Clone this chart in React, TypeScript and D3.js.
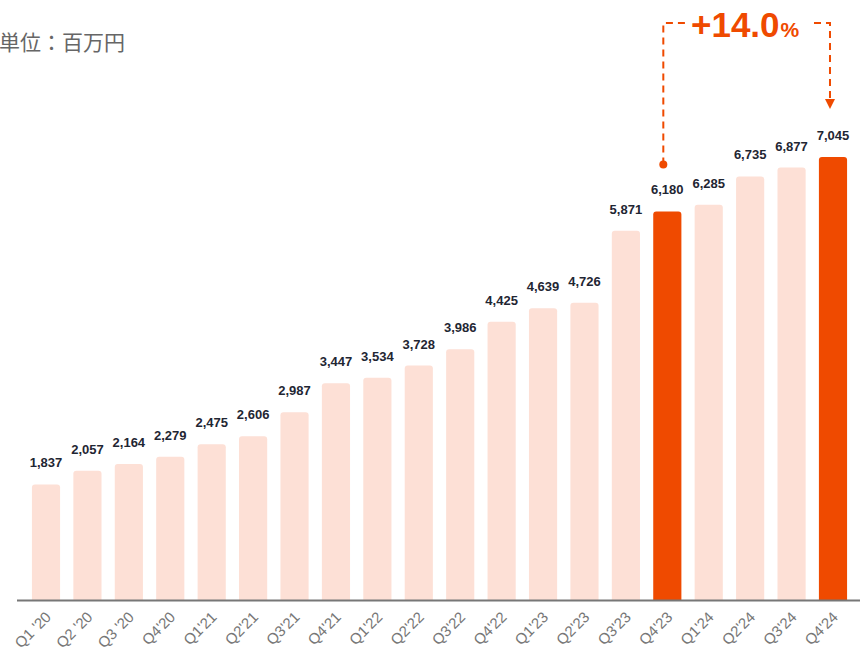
import React, { useEffect, useRef } from "react";
import * as d3 from "d3";

const quarters = [
  "Q1 '20", "Q2 '20", "Q3 '20", "Q4'20",
  "Q1'21", "Q2'21", "Q3'21", "Q4'21",
  "Q1'22", "Q2'22", "Q3'22", "Q4'22",
  "Q1'23", "Q2'23", "Q3'23", "Q4'23",
  "Q1'24", "Q2'24", "Q3'24", "Q4'24",
];
const revenue = [
  1837, 2057, 2164, 2279,
  2475, 2606, 2987, 3447,
  3534, 3728, 3986, 4425,
  4639, 4726, 5871, 6180,
  6285, 6735, 6877, 7045,
];
const highlighted = ["Q4'23", "Q4'24"];
const growthLabel = "+14.0";
const unitLabel = "単位：百万円";

const LIGHT = "#fde0d6";
const ORANGE = "#ef4a00";

export default function App() {
  const ref = useRef<SVGSVGElement>(null);

  useEffect(() => {
    if (!ref.current) return;
    const width = 860,
      baseline = 600;

    const svg = d3.select(ref.current);
    svg.selectAll("*").remove();

    const data = quarters.map((q, i) => ({ q, v: revenue[i] }));

    const x = d3
      .scaleBand()
      .domain(quarters)
      .range([25.3, 853.7])
      .paddingInner(0.32)
      .paddingOuter(0.16);

    const y = d3
      .scaleLinear()
      .domain([0, d3.max(revenue) as number])
      .range([baseline, 157]);

    const r = 3;
    const barPath = (d: { q: string; v: number }) => {
      const x0 = x(d.q) as number;
      const w = x.bandwidth();
      const top = y(d.v);
      return `M${x0},${baseline}V${top + r}Q${x0},${top} ${x0 + r},${top}H${x0 + w - r}Q${x0 + w},${top} ${x0 + w},${top + r}V${baseline}Z`;
    };

    svg
      .append("g")
      .selectAll("path")
      .data(data)
      .enter()
      .append("path")
      .attr("d", barPath)
      .attr("fill", (d) => (highlighted.includes(d.q) ? ORANGE : LIGHT));

    // value labels
    svg
      .append("g")
      .selectAll("text")
      .data(data)
      .enter()
      .append("text")
      .attr("x", (d) => (x(d.q) as number) + x.bandwidth() / 2)
      .attr("y", (d) => y(d.v) - 17)
      .attr("text-anchor", "middle")
      .attr("font-family", "Liberation Sans, Arial, sans-serif")
      .attr("font-weight", "bold")
      .attr("font-size", 13)
      .attr("fill", "#1f2633")
      .text((d) => d3.format(",")(d.v));

    // x axis
    svg
      .append("line")
      .attr("x1", 17)
      .attr("x2", width)
      .attr("y1", baseline + 0.5)
      .attr("y2", baseline + 0.5)
      .attr("stroke", "#777")
      .attr("stroke-width", 2);

    svg
      .append("g")
      .selectAll("text")
      .data(quarters)
      .enter()
      .append("text")
      .attr("transform", (q) => {
        const cx = (x(q) as number) + x.bandwidth() / 2 + 6;
        return `translate(${cx},${baseline + 18}) rotate(-45)`;
      })
      .attr("text-anchor", "end")
      .attr("font-family", "Liberation Sans, Arial, sans-serif")
      .attr("font-size", 15)
      .attr("fill", "#777")
      .text((q) => q);

    // unit
    svg
      .append("text")
      .attr("x", -1)
      .attr("y", 50)
      .attr("font-family", "Noto Sans CJK JP, sans-serif")
      .attr("font-size", 21)
      .attr("fill", "#666")
      .text(unitLabel);

    // growth annotation
    const fromQ = highlighted[0],
      toQ = highlighted[1];
    const fromV = revenue[quarters.indexOf(fromQ)];
    const toV = revenue[quarters.indexOf(toQ)];
    const fx = (x(fromQ) as number) + x.bandwidth() / 2 - 4;
    const tx = (x(toQ) as number) + x.bandwidth() / 2 - 3;
    const lineY = 23;
    const dotY = y(fromV) - 47;
    const tipY = y(toV) - 48;

    const ann = svg.append("g");
    ann
      .append("path")
      .attr("d", `M${fx},${dotY}V${lineY}H${fx + 22}`)
      .attr("fill", "none")
      .attr("stroke", ORANGE)
      .attr("stroke-width", 2)
      .attr("stroke-dasharray", "7,5");
    ann
      .append("path")
      .attr("d", `M${tx - 16},${lineY}H${tx}V${tipY - 9}`)
      .attr("fill", "none")
      .attr("stroke", ORANGE)
      .attr("stroke-width", 2)
      .attr("stroke-dasharray", "7,5");
    ann
      .append("circle")
      .attr("cx", fx)
      .attr("cy", dotY)
      .attr("r", 4)
      .attr("fill", ORANGE);
    ann
      .append("path")
      .attr("d", `M${tx - 5},${tipY - 10}L${tx + 5},${tipY - 10}L${tx},${tipY}Z`)
      .attr("fill", ORANGE);

    const label = ann
      .append("text")
      .attr("x", 691)
      .attr("y", 37)
      .attr("font-family", "Liberation Sans, Arial, sans-serif")
      .attr("font-weight", "bold")
      .attr("fill", ORANGE);
    label.append("tspan").attr("font-size", 35).text(growthLabel);
    label.append("tspan").attr("font-size", 21).attr("dx", 1).text("%");
  }, []);

  return (
    <svg
      ref={ref}
      width={860}
      height={654}
      style={{ position: "absolute", left: 0, top: 0 }}
    />
  );
}
